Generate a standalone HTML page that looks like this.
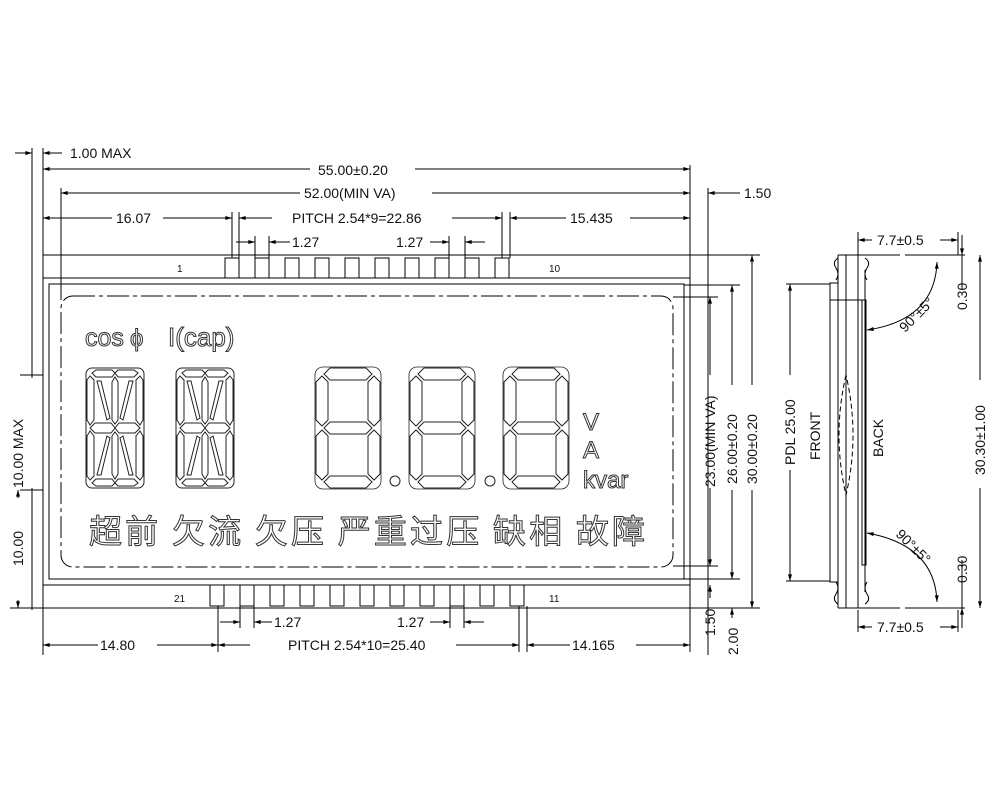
<!DOCTYPE html>
<html><head><meta charset="utf-8"><style>
html,body{margin:0;padding:0;background:#fff;width:1000px;height:800px;overflow:hidden}
svg{display:block}
text{font-family:"Liberation Sans","Noto Sans CJK SC",sans-serif;fill:#111}
.d{font-size:14px}
.o{fill:#fff;stroke:#333;stroke-width:1}
</style></head><body>
<svg width="1000" height="800" viewBox="0 0 1000 800" xmlns="http://www.w3.org/2000/svg">
<defs>
<marker id="a" viewBox="0 0 10 6" refX="10" refY="3" markerWidth="8" markerHeight="4" orient="auto-start-reverse"><path d="M0,0L10,3L0,6z" fill="#000"/></marker>
<g id="s7" fill="none" stroke="#222" stroke-width="1">
<polygon points="8,6 14,0 50,0 56,6 50,12 14,12"/>
<polygon points="8,60 14,54 50,54 56,60 50,66 14,66"/>
<polygon points="8,114 14,108 50,108 56,114 50,120 14,120"/>
<polygon points="58,8 64,14 64,52 58,58 52,52 52,14"/>
<polygon points="58,62 64,68 64,106 58,112 52,106 52,68"/>
<polygon points="6,8 12,14 12,52 6,58 0,52 0,14"/>
<polygon points="6,62 12,68 12,106 6,112 0,106 0,68"/>
<rect x="-1" y="-1" width="66" height="122" rx="8" stroke-width="0.8"/>
</g>
<g id="s14" fill="none" stroke="#222" stroke-width="1">
<rect x="0" y="0" width="58" height="120" rx="6"/>
<polygon points="6,5 10,2 26,2 29,5 26,9 10,9"/>
<polygon points="29,5 32,2 48,2 52,5 48,9 32,9"/>
<polygon points="6,115 10,111 26,111 29,115 26,118 10,118"/>
<polygon points="29,115 32,111 48,111 52,115 48,118 32,118"/>
<polygon points="4,60 9,55 25,55 29,60 25,65 9,65"/>
<polygon points="29,60 33,55 49,55 54,60 49,65 33,65"/>
<polygon points="4,8 8,12 8,52 4,57 1,52 1,12"/>
<polygon points="54,8 57,12 57,52 54,57 50,52 50,12"/>
<polygon points="4,63 8,68 8,108 4,112 1,108 1,68"/>
<polygon points="54,63 57,68 57,108 54,112 50,108 50,68"/>
<polygon points="29,9 32,14 32,52 29,56 26,52 26,14"/>
<polygon points="29,64 32,68 32,106 29,111 26,106 26,68"/>
<polygon points="11,13 15,13 24,50 21,52"/>
<polygon points="47,13 43,13 34,50 37,52"/>
<polygon points="11,107 15,107 24,70 21,68"/>
<polygon points="47,107 43,107 34,70 37,68"/>
</g>
</defs>
<g stroke="#000" stroke-width="1" fill="none">
<line x1="32" y1="148" x2="32" y2="378"/><line x1="32" y1="488" x2="32" y2="610"/>
<line x1="43" y1="148" x2="43" y2="655"/>
<line x1="61" y1="188" x2="61" y2="300"/>
<rect x="43" y="255" width="647" height="353"/>
<line x1="43" y1="278" x2="690" y2="278"/>
<line x1="43" y1="585" x2="690" y2="585"/>
<rect x="49" y="284" width="635" height="295"/>
<rect x="61" y="296" width="612" height="271" rx="12" stroke-dasharray="22,4,4,4"/>
<g>
<rect x="225" y="258" width="14" height="20"/><rect x="255" y="258" width="14" height="20"/><rect x="285" y="258" width="14" height="20"/><rect x="315" y="258" width="14" height="20"/><rect x="345" y="258" width="14" height="20"/><rect x="375" y="258" width="14" height="20"/><rect x="405" y="258" width="14" height="20"/><rect x="435" y="258" width="14" height="20"/><rect x="465" y="258" width="14" height="20"/><rect x="495" y="258" width="14" height="20"/>
</g>
<g>
<rect x="210" y="585" width="14" height="21"/><rect x="240" y="585" width="14" height="21"/><rect x="270" y="585" width="14" height="21"/><rect x="300" y="585" width="14" height="21"/><rect x="330" y="585" width="14" height="21"/><rect x="360" y="585" width="14" height="21"/><rect x="390" y="585" width="14" height="21"/><rect x="420" y="585" width="14" height="21"/><rect x="450" y="585" width="14" height="21"/><rect x="480" y="585" width="14" height="21"/><rect x="510" y="585" width="14" height="21"/>
</g>
<line x1="690" y1="165" x2="690" y2="255"/>
<line x1="708" y1="188" x2="708" y2="655"/>
<line x1="232" y1="212" x2="232" y2="258"/>
<line x1="239" y1="212" x2="239" y2="258"/>
<line x1="502" y1="212" x2="502" y2="258"/>
<line x1="510" y1="212" x2="510" y2="258"/>
<line x1="255" y1="236" x2="255" y2="258"/><line x1="269" y1="236" x2="269" y2="258"/>
<line x1="449" y1="236" x2="449" y2="258"/><line x1="465" y1="236" x2="465" y2="258"/>
<line x1="15" y1="153" x2="32" y2="153" marker-end="url(#a)"/>
<line x1="62" y1="153" x2="43" y2="153" marker-end="url(#a)"/>
<line x1="43" y1="169" x2="310" y2="169" marker-start="url(#a)"/><line x1="415" y1="169" x2="690" y2="169" marker-end="url(#a)"/>
<line x1="61" y1="193" x2="300" y2="193" marker-start="url(#a)"/><line x1="432" y1="193" x2="690" y2="193" marker-end="url(#a)"/>
<line x1="740" y1="193" x2="708" y2="193" marker-end="url(#a)"/>
<line x1="43" y1="218" x2="112" y2="218" marker-start="url(#a)"/><line x1="163" y1="218" x2="232" y2="218" marker-end="url(#a)"/>
<line x1="239" y1="218" x2="272" y2="218" marker-start="url(#a)"/><line x1="452" y1="218" x2="502" y2="218" marker-end="url(#a)"/>
<line x1="510" y1="218" x2="566" y2="218" marker-start="url(#a)"/><line x1="630" y1="218" x2="690" y2="218" marker-end="url(#a)"/>
<line x1="236" y1="242" x2="255" y2="242" marker-end="url(#a)"/><line x1="290" y1="242" x2="269" y2="242" marker-end="url(#a)"/>
<line x1="430" y1="242" x2="449" y2="242" marker-end="url(#a)"/><line x1="485" y1="242" x2="465" y2="242" marker-end="url(#a)"/>
<line x1="218" y1="606" x2="218" y2="652"/><line x1="519" y1="606" x2="519" y2="652"/><line x1="527" y1="606" x2="527" y2="652"/>
<line x1="690" y1="608" x2="690" y2="652"/>
<line x1="240" y1="606" x2="240" y2="628"/><line x1="254" y1="606" x2="254" y2="628"/>
<line x1="450" y1="606" x2="450" y2="628"/><line x1="464" y1="606" x2="464" y2="628"/>
<line x1="220" y1="622" x2="240" y2="622" marker-end="url(#a)"/><line x1="272" y1="622" x2="254" y2="622" marker-end="url(#a)"/>
<line x1="430" y1="622" x2="450" y2="622" marker-end="url(#a)"/><line x1="484" y1="622" x2="464" y2="622" marker-end="url(#a)"/>
<line x1="43" y1="645" x2="98" y2="645" marker-start="url(#a)"/><line x1="157" y1="645" x2="218" y2="645" marker-end="url(#a)"/>
<line x1="218" y1="645" x2="250" y2="645" marker-start="url(#a)"/><line x1="456" y1="645" x2="519" y2="645" marker-end="url(#a)"/>
<line x1="527" y1="645" x2="570" y2="645" marker-start="url(#a)"/><line x1="636" y1="645" x2="690" y2="645" marker-end="url(#a)"/>
<line x1="673" y1="297" x2="718" y2="297"/><line x1="673" y1="566" x2="718" y2="566"/>
<line x1="684" y1="285" x2="740" y2="285"/><line x1="684" y1="579" x2="740" y2="579"/>
<line x1="690" y1="255" x2="760" y2="255"/><line x1="690" y1="608" x2="760" y2="608"/>
<line x1="710" y1="375" x2="710" y2="297" marker-end="url(#a)"/><line x1="710" y1="488" x2="710" y2="566" marker-end="url(#a)"/>
<line x1="732" y1="385" x2="732" y2="285" marker-end="url(#a)"/><line x1="732" y1="490" x2="732" y2="579" marker-end="url(#a)"/>
<line x1="752" y1="385" x2="752" y2="255" marker-end="url(#a)"/><line x1="752" y1="490" x2="752" y2="608" marker-end="url(#a)"/>
<line x1="710" y1="598" x2="710" y2="585" marker-end="url(#a)"/>
<line x1="732" y1="618" x2="732" y2="608" marker-end="url(#a)"/>
<line x1="20" y1="375" x2="43" y2="375"/><line x1="20" y1="490" x2="43" y2="490"/>
<line x1="18" y1="600" x2="18" y2="608" marker-end="url(#a)"/>
<line x1="10" y1="608" x2="43" y2="608"/>
<line x1="18" y1="498" x2="18" y2="490" marker-end="url(#a)"/>
</g>
<use href="#s14" x="86" y="368"/><use href="#s14" x="176" y="368"/>
<use href="#s7" x="316" y="368"/><use href="#s7" x="410" y="368"/><use href="#s7" x="504" y="368"/>
<circle cx="395" cy="481" r="5" fill="none" stroke="#222"/><circle cx="490" cy="481" r="5" fill="none" stroke="#222"/>
<text x="85" y="346" font-size="25" class="o">cos</text>
<text x="130" y="346" font-size="24" class="o">ϕ</text>
<text x="168" y="346" font-size="26" class="o">I(cap)</text>
<text x="583" y="430" font-size="24" class="o">V</text>
<text x="583" y="458" font-size="24" class="o">A</text>
<text x="583" y="488" font-size="24" class="o">kvar</text>
<text x="89" y="543" font-size="33" class="o" textLength="556" lengthAdjust="spacing" style="font-family:'Noto Sans CJK SC',sans-serif">超前 欠流 欠压 严重过压 缺相 故障</text>
<g class="d">
<text x="70" y="158">1.00 MAX</text>
<text x="318" y="175">55.00±0.20</text>
<text x="304" y="198">52.00(MIN VA)</text>
<text x="116" y="223">16.07</text>
<text x="292" y="223">PITCH 2.54*9=22.86</text>
<text x="570" y="223">15.435</text>
<text x="744" y="198">1.50</text>
<text x="292" y="247">1.27</text>
<text x="396" y="247">1.27</text>
<text x="274" y="627">1.27</text>
<text x="397" y="627">1.27</text>
<text x="100" y="650">14.80</text>
<text x="288" y="650">PITCH 2.54*10=25.40</text>
<text x="572" y="650">14.165</text>
<text x="177" y="272" font-size="10">1</text><text x="549" y="272" font-size="10">10</text>
<text x="174" y="602" font-size="10">21</text><text x="549" y="602" font-size="10">11</text>
<text transform="translate(715,487) rotate(-90)">23.00(MIN VA)</text>
<text transform="translate(737,484) rotate(-90)">26.00±0.20</text>
<text transform="translate(757,484) rotate(-90)">30.00±0.20</text>
<text transform="translate(715,636) rotate(-90)">1.50</text>
<text transform="translate(738,655) rotate(-90)">2.00</text>
<text transform="translate(23,488) rotate(-90)">10.00 MAX</text>
<text transform="translate(23,566) rotate(-90)">10.00</text>
</g>
<g stroke="#000" stroke-width="1" fill="none">
<line x1="838" y1="255" x2="838" y2="608"/><line x1="846" y1="255" x2="846" y2="608"/>
<line x1="858" y1="255" x2="858" y2="608"/><line x1="865" y1="270" x2="865" y2="592"/>
<rect x="830" y="283" width="8" height="299"/>
<rect x="862" y="300" width="4" height="265"/>
<line x1="830" y1="300" x2="866" y2="300"/>
<path d="M838,258 q-6,4 -2,10 q4,6 0,12 M865,258 q6,4 2,10 q-4,6 0,12"/>
<path d="M838,604 q-6,-4 -2,-10 q4,-6 0,-12 M865,604 q6,-4 2,-10 q-4,-6 0,-12"/>
<line x1="838" y1="255" x2="900" y2="255"/><line x1="905" y1="255" x2="965" y2="255"/>
<line x1="838" y1="608" x2="900" y2="608"/><line x1="905" y1="608" x2="965" y2="608"/>
<line x1="858" y1="232" x2="858" y2="255"/><line x1="958" y1="232" x2="958" y2="255"/>
<line x1="858" y1="610" x2="858" y2="632"/><line x1="958" y1="610" x2="958" y2="632"/>
<line x1="858" y1="240" x2="872" y2="240" marker-start="url(#a)"/><line x1="940" y1="240" x2="958" y2="240" marker-end="url(#a)"/>
<line x1="858" y1="627" x2="872" y2="627" marker-start="url(#a)"/><line x1="940" y1="627" x2="958" y2="627" marker-end="url(#a)"/>
<line x1="962" y1="235" x2="962" y2="255" marker-end="url(#a)"/><line x1="962" y1="290" x2="962" y2="255"/>
<line x1="962" y1="628" x2="962" y2="608" marker-end="url(#a)"/><line x1="962" y1="560" x2="962" y2="608"/>
<line x1="980" y1="380" x2="980" y2="255" marker-end="url(#a)"/><line x1="980" y1="488" x2="980" y2="608" marker-end="url(#a)"/>
<line x1="786" y1="284" x2="830" y2="284"/><line x1="786" y1="581" x2="830" y2="581"/>
<line x1="790" y1="375" x2="790" y2="284" marker-end="url(#a)"/><line x1="790" y1="470" x2="790" y2="581" marker-end="url(#a)"/>
<path d="M867,330 Q935,320 937,262" marker-start="url(#a)" marker-end="url(#a)"/>
<path d="M867,533 Q935,545 937,602" marker-start="url(#a)" marker-end="url(#a)"/>
<path d="M846,375 Q832,435 846,495 Q860,435 846,375" stroke-dasharray="5,3"/>
</g>
<g class="d">
<text x="877" y="245">7.7±0.5</text>
<text x="877" y="632">7.7±0.5</text>
<text transform="translate(967,310) rotate(-90)">0.30</text>
<text transform="translate(967,583) rotate(-90)">0.30</text>
<text transform="translate(985,475) rotate(-90)">30.30±1.00</text>
<text transform="translate(795,465) rotate(-90)">PDL 25.00</text>
<text transform="translate(820,460) rotate(-90)">FRONT</text>
<text transform="translate(883,457) rotate(-90)">BACK</text>
<text transform="translate(905,333) rotate(-45)">90°±5°</text>
<text transform="translate(895,535) rotate(45)">90°±5°</text>
</g>
</svg>
</body></html>
